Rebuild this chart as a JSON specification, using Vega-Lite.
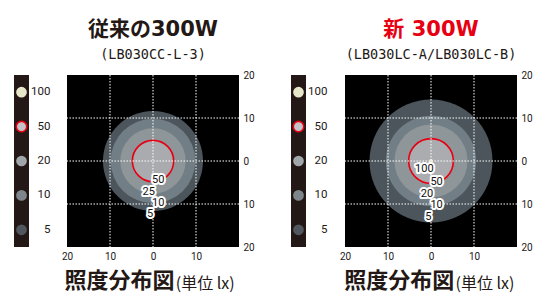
{
  "$schema": "https://vega.github.io/schema/vega-lite/v6.json",
  "background": "white",
  "padding": {"left": 13, "top": 18, "right": 5, "bottom": 5},
  "bounds": "flush",
  "spacing": 0,
  "config": {
    "view": {"stroke": null},
    "font": "Roboto",
    "axis": {"labelFont": "Roboto", "labelFontSize": 10, "labelColor": "#231815", "ticks": false, "domain": false, "grid": false, "title": null, "labelOverlap": false, "labelFlush": false}
  },
  "resolve": {"scale": {"color": "independent", "radius": "independent", "x": "independent", "y": "independent"}},
  "hconcat": [
    {
      "width": 15, "height": 172,
      "view": {"fill": "#231815", "stroke": null},
      "data": {"values": [{"lux": 100}, {"lux": 50}, {"lux": 20}, {"lux": 10}, {"lux": 5}]},
      "encoding": {"y": {"field": "lux", "type": "ordinal", "scale": {"domain": [100, 50, 20, 10, 5], "padding": 0.5}, "axis": null}},
      "layer": [
        {"mark": {"type": "point", "filled": true, "size": 115, "opacity": 1},
         "encoding": {"color": {"field": "lux", "type": "ordinal", "scale": {"domain": [100, 50, 20, 10, 5], "range": ["#e8e6c8", "#c1c5ca", "#a1a6ab", "#7e868c", "#51575c"]}, "legend": null}}},
        {"transform": [{"filter": "datum.lux == 50"}],
         "mark": {"type": "point", "filled": false, "size": 110, "stroke": "#e60012", "strokeWidth": 1.6, "opacity": 1}},
        {"mark": {"type": "text", "align": "right", "baseline": "middle", "dx": 29, "fontSize": 11.5, "font": "Roboto", "color": "#231815"},
         "encoding": {"text": {"field": "lux", "type": "nominal"}}}
      ]
    },
    {"width": 38, "height": 172, "data": {"values": [{}]}, "mark": {"type": "point", "opacity": 0}, "encoding": {}},
    {
      "width": 172, "height": 172,
      "view": {"fill": "#000000", "stroke": null},
      "title": {"text": "従来の300W", "subtitle": "(LB030CC-L-3)", "anchor": "middle", "frame": "group", "font": "DejaVu Sans, Noto Sans CJK JP", "fontSize": 21, "fontWeight": "bold", "color": "#231815", "subtitleFont": "DejaVu Sans Mono", "subtitleFontSize": 13.5, "subtitleColor": "#231815", "subtitlePadding": 8, "offset": 9},
      "layer": [
        {"data": {"values": [{"lux": 5, "r": 11.63}, {"lux": 10, "r": 9.84}, {"lux": 25, "r": 7.6}, {"lux": 50, "r": 4.8}]},
         "mark": {"type": "arc", "theta": 0, "theta2": 6.2832},
         "encoding": {
           "radius": {"field": "r", "type": "quantitative", "stack": null, "scale": {"type": "linear", "domain": [0, 20], "range": [0, 86], "zero": true}},
           "color": {"field": "lux", "type": "ordinal", "scale": {"domain": [5, 10, 25, 50], "range": ["#4b555b", "#727e85", "#8f9699", "#aaabae"]}, "legend": null}}},
        {"data": {"values": [{"lux": 50, "r": 4.8}]},
         "mark": {"type": "arc", "theta": 0, "theta2": 6.2832, "filled": false, "fill": null, "stroke": "#e60012", "strokeWidth": 1.6},
         "encoding": {"radius": {"field": "r", "type": "quantitative", "stack": null}}},
        {"data": {"values": [{"v": -10}, {"v": 0}, {"v": 10}]},
         "layer": [
           {"mark": {"type": "rule", "color": "#ffffff", "strokeDash": [1.5, 1.5], "strokeWidth": 1},
            "encoding": {"x": {"field": "v", "type": "quantitative", "scale": {"domain": [-20, 20], "nice": false},
              "axis": {"orient": "bottom", "values": [-20, -10, 0, 10], "labelExpr": "'' + abs(datum.value)", "labelPadding": 4}}}},
           {"mark": {"type": "rule", "color": "#ffffff", "strokeDash": [1.5, 1.5], "strokeWidth": 1},
            "encoding": {"y": {"field": "v", "type": "quantitative", "scale": {"domain": [-20, 20], "nice": false},
              "axis": {"orient": "right", "values": [-20, -10, 0, 10, 20], "labelExpr": "'' + abs(datum.value)", "labelPadding": 4}}}}
         ]},
        {"data": {"values": [{"t": "50", "x": 1.23, "y": -4.4}, {"t": "25", "x": -1.0, "y": -7.2}, {"t": "10", "x": 1.23, "y": -9.7}, {"t": "5", "x": -0.7, "y": -12.4}]},
         "encoding": {"x": {"field": "x", "type": "quantitative"}, "y": {"field": "y", "type": "quantitative"}, "text": {"field": "t", "type": "nominal"}},
         "layer": [
           {"mark": {"type": "text", "fontSize": 11, "font": "Roboto", "baseline": "middle", "align": "center", "color": "#ffffff", "stroke": "#ffffff", "strokeWidth": 4, "strokeJoin": "round"}},
           {"mark": {"type": "text", "fontSize": 11, "font": "Roboto", "baseline": "middle", "align": "center", "color": "#111111"}}
         ]},
        {"data": {"values": [{"t": "照度分布図"}]},
         "mark": {"type": "text", "align": "right", "baseline": "middle", "fontSize": 22, "fontWeight": "bold", "font": "Noto Sans CJK JP", "color": "#231815"},
         "encoding": {"text": {"field": "t", "type": "nominal"}, "x": {"datum": 5.0}, "y": {"datum": -28.0}}},
        {"data": {"values": [{"t": "(単位 lx)"}]},
         "mark": {"type": "text", "align": "left", "baseline": "middle", "fontSize": 16, "font": "Noto Sans CJK JP", "color": "#231815"},
         "encoding": {"text": {"field": "t", "type": "nominal"}, "x": {"datum": 5.3}, "y": {"datum": -28.5}}}
      ]
    },
    {"width": 52, "height": 172, "data": {"values": [{}]}, "mark": {"type": "point", "opacity": 0}, "encoding": {}},
    {
      "width": 15, "height": 172,
      "view": {"fill": "#231815", "stroke": null},
      "data": {"values": [{"lux": 100}, {"lux": 50}, {"lux": 20}, {"lux": 10}, {"lux": 5}]},
      "encoding": {"y": {"field": "lux", "type": "ordinal", "scale": {"domain": [100, 50, 20, 10, 5], "padding": 0.5}, "axis": null}},
      "layer": [
        {"mark": {"type": "point", "filled": true, "size": 115, "opacity": 1},
         "encoding": {"color": {"field": "lux", "type": "ordinal", "scale": {"domain": [100, 50, 20, 10, 5], "range": ["#e8e6c8", "#c1c5ca", "#a1a6ab", "#7e868c", "#51575c"]}, "legend": null}}},
        {"transform": [{"filter": "datum.lux == 50"}],
         "mark": {"type": "point", "filled": false, "size": 110, "stroke": "#e60012", "strokeWidth": 1.6, "opacity": 1}},
        {"mark": {"type": "text", "align": "right", "baseline": "middle", "dx": 29, "fontSize": 11.5, "font": "Roboto", "color": "#231815"},
         "encoding": {"text": {"field": "lux", "type": "nominal"}}}
      ]
    },
    {"width": 39, "height": 172, "data": {"values": [{}]}, "mark": {"type": "point", "opacity": 0}, "encoding": {}},
    {
      "width": 172, "height": 172,
      "view": {"fill": "#000000", "stroke": null},
      "title": {"text": "新 300W", "subtitle": "(LB030LC-A/LB030LC-B)", "anchor": "middle", "frame": "group", "font": "DejaVu Sans, Noto Sans CJK JP", "fontSize": 21, "fontWeight": "bold", "color": "#e60012", "subtitleFont": "DejaVu Sans Mono", "subtitleFontSize": 13.5, "subtitleColor": "#231815", "subtitlePadding": 8, "offset": 9},
      "layer": [
        {"data": {"values": [{"lux": 5, "r": 14.3}, {"lux": 10, "r": 10.5}, {"lux": 20, "r": 8.5}, {"lux": 50, "r": 5.2}, {"lux": 100, "r": 0.45}]},
         "mark": {"type": "arc", "theta": 0, "theta2": 6.2832},
         "encoding": {
           "radius": {"field": "r", "type": "quantitative", "stack": null, "scale": {"type": "linear", "domain": [0, 20], "range": [0, 86], "zero": true}},
           "color": {"field": "lux", "type": "ordinal", "scale": {"domain": [5, 10, 20, 50, 100], "range": ["#4b555b", "#727e85", "#8f9699", "#abacaf", "#e6e4c4"]}, "legend": null}}},
        {"data": {"values": [{"lux": 50, "r": 5.2}]},
         "mark": {"type": "arc", "theta": 0, "theta2": 6.2832, "filled": false, "fill": null, "stroke": "#e60012", "strokeWidth": 1.6},
         "encoding": {"radius": {"field": "r", "type": "quantitative", "stack": null}}},
        {"data": {"values": [{"v": -10}, {"v": 0}, {"v": 10}]},
         "layer": [
           {"mark": {"type": "rule", "color": "#ffffff", "strokeDash": [1.5, 1.5], "strokeWidth": 1},
            "encoding": {"x": {"field": "v", "type": "quantitative", "scale": {"domain": [-20, 20], "nice": false},
              "axis": {"orient": "bottom", "values": [-20, -10, 0, 10], "labelExpr": "'' + abs(datum.value)", "labelPadding": 4}}}},
           {"mark": {"type": "rule", "color": "#ffffff", "strokeDash": [1.5, 1.5], "strokeWidth": 1},
            "encoding": {"y": {"field": "v", "type": "quantitative", "scale": {"domain": [-20, 20], "nice": false},
              "axis": {"orient": "right", "values": [-20, -10, 0, 10, 20], "labelExpr": "'' + abs(datum.value)", "labelPadding": 4}}}}
         ]},
        {"data": {"values": [{"t": "100", "x": -1.56, "y": -1.8}, {"t": "50", "x": 1.3, "y": -4.8}, {"t": "20", "x": -0.93, "y": -7.6}, {"t": "10", "x": 1.3, "y": -10.3}, {"t": "5", "x": -0.6, "y": -13.0}]},
         "encoding": {"x": {"field": "x", "type": "quantitative"}, "y": {"field": "y", "type": "quantitative"}, "text": {"field": "t", "type": "nominal"}},
         "layer": [
           {"mark": {"type": "text", "fontSize": 11, "font": "Roboto", "baseline": "middle", "align": "center", "color": "#ffffff", "stroke": "#ffffff", "strokeWidth": 4, "strokeJoin": "round"}},
           {"mark": {"type": "text", "fontSize": 11, "font": "Roboto", "baseline": "middle", "align": "center", "color": "#111111"}}
         ]},
        {"data": {"values": [{"t": "照度分布図"}]},
         "mark": {"type": "text", "align": "right", "baseline": "middle", "fontSize": 22, "fontWeight": "bold", "font": "Noto Sans CJK JP", "color": "#231815"},
         "encoding": {"text": {"field": "t", "type": "nominal"}, "x": {"datum": 5.4}, "y": {"datum": -28.0}}},
        {"data": {"values": [{"t": "(単位 lx)"}]},
         "mark": {"type": "text", "align": "left", "baseline": "middle", "fontSize": 16, "font": "Noto Sans CJK JP", "color": "#231815"},
         "encoding": {"text": {"field": "t", "type": "nominal"}, "x": {"datum": 5.7}, "y": {"datum": -28.5}}}
      ]
    }
  ]
}
